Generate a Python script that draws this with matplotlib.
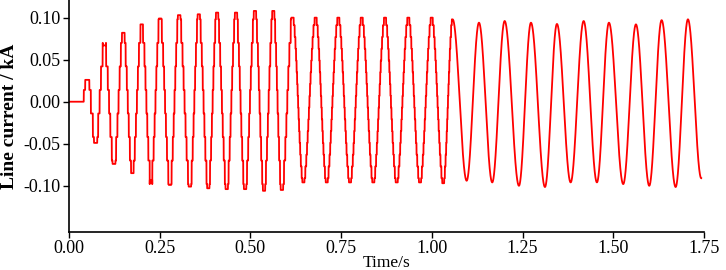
import numpy as np
import matplotlib
matplotlib.use("Agg")
import matplotlib.pyplot as plt

# ---- data ----
# alternating extrema of the line current (time in s, current in kA)
ext_time = [0.000, 0.034, 0.051, 0.0736, 0.0973, 0.1240, 0.1496, 0.1744, 0.2003,
            0.2260, 0.2508, 0.2783, 0.3031, 0.3334, 0.3574, 0.3839, 0.4078,
            0.4346, 0.4602, 0.4850, 0.5125, 0.5373, 0.5630, 0.5861, 0.6164,
            0.6456, 0.6798, 0.7101, 0.7421, 0.7743, 0.8066, 0.8385, 0.8708,
            0.9030, 0.9350, 0.9672, 0.9994, 1.0314, 1.0573, 1.0959, 1.1298,
            1.1664, 1.2006, 1.2400, 1.2731, 1.3117, 1.3447, 1.3825, 1.4183,
            1.4549, 1.4880, 1.5274, 1.5624, 1.5991, 1.6332, 1.6718, 1.7057,
            1.7424]
ext_value = [0.000, 0.000, 0.026, -0.049, 0.067, -0.074, 0.082, -0.085, 0.092,
             -0.093, 0.099, -0.099, 0.103, -0.101, 0.104, -0.103, 0.106,
             -0.104, 0.106, -0.104, 0.108, -0.106, 0.108, -0.105, 0.100,
             -0.096, 0.100, -0.096, 0.100, -0.096, 0.100, -0.096, 0.100,
             -0.096, 0.100, -0.096, 0.100, -0.097, 0.098, -0.094, 0.094,
             -0.096, 0.096, -0.100, 0.094, -0.1015, 0.0925, -0.096, 0.096,
             -0.096, 0.094, -0.098, 0.092, -0.100, 0.097, -0.1015, 0.098,
             -0.091]
# staircase step height of the waveform in successive time ranges
seg_end = [0.59, 1.045, 1.75]
seg_step = [0.028, 0.014, 0.0]

x_ticks = [0.00, 0.25, 0.50, 0.75, 1.00, 1.25, 1.50, 1.75]
y_ticks = [-0.10, -0.05, 0.00, 0.05, 0.10]

# ---- build the waveform from the extrema ----
t = np.linspace(ext_time[0], ext_time[-1], 30000)
cur = np.zeros_like(t)
for k in range(len(ext_time) - 1):
    t0, t1 = ext_time[k], ext_time[k + 1]
    v0, v1 = ext_value[k], ext_value[k + 1]
    m = (t >= t0) & (t <= t1)
    ph = (t[m] - t0) / (t1 - t0)
    v = v0 + (v1 - v0) * (1 - np.cos(np.pi * ph)) / 2
    step = seg_step[int(np.searchsorted(seg_end, t0))]
    if step > 0 and not (v0 == 0 and v1 == 0):
        q = np.sign(v) * (np.floor(np.abs(v) / step) + 0.5) * step
        aref = np.where(ph < 0.5, v0, v1)
        near = np.abs(v - aref) < 0.3 * step
        q = np.where(near, aref, q)
        v = q
    cur[m] = v

# ---- figure ----
plt.rcParams['font.family'] = ['Liberation Serif', 'DejaVu Serif']
plt.rcParams['axes.unicode_minus'] = False

fig = plt.figure(figsize=(7.26, 2.70), dpi=100)
ax = fig.add_axes([69 / 726, 1 - 232 / 270, (704 - 69) / 726, 232 / 270])
ax.plot(t, cur, color='#ff0000', lw=1.3)

ax.set_xlim(0, 1.75)
ax.set_ylim(-0.155, 0.121)
ax.set_xticks(x_ticks)
ax.set_xticklabels([f"{v:.2f}" for v in x_ticks])
ax.set_yticks(y_ticks)
ax.set_yticklabels([f"{v:.2f}" for v in y_ticks])
ax.tick_params(direction='out', length=4, width=1.0, labelsize=13, pad=2)
for s in ['top', 'right']:
    ax.spines[s].set_visible(False)
for s in ['left', 'bottom']:
    ax.spines[s].set_linewidth(1.2)

ax.set_xlabel('Time/s', fontsize=12.5, labelpad=-2)
ax.set_ylabel('Line current / kA', fontsize=14, fontweight='bold', labelpad=4)

fig.savefig('out.png', dpi=100)
